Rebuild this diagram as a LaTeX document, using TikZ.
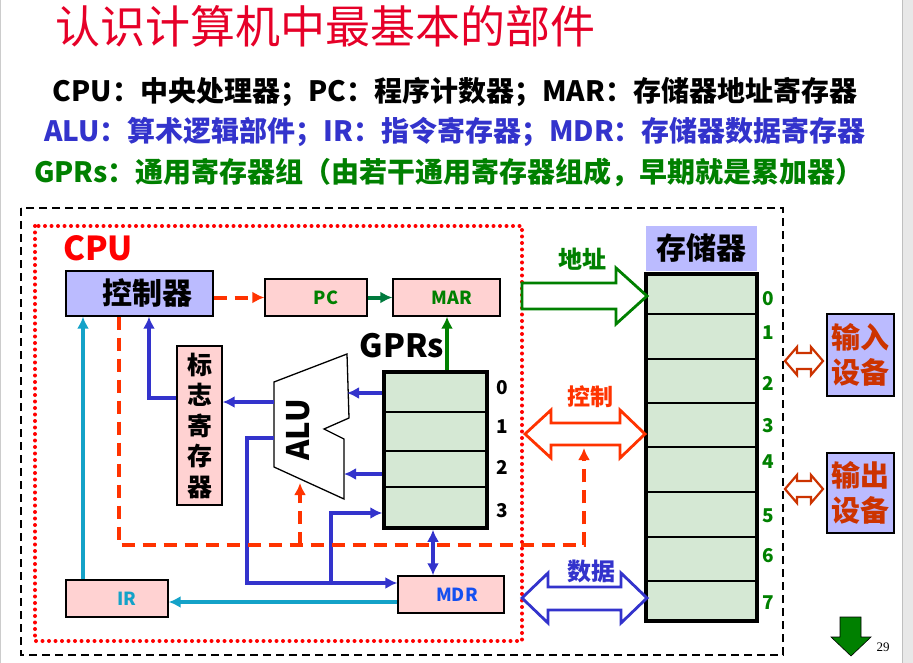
\documentclass[tikz,border=0pt]{standalone}
\usepackage{fontspec}
\setmainfont{Noto Sans CJK SC}
\newfontfamily\pagenumfont{Liberation Serif}
\usetikzlibrary{arrows.meta}
\definecolor{titlered}{RGB}{230,0,40}
\definecolor{lavender}{RGB}{187,187,255}
\definecolor{regpink}{RGB}{255,210,210}
\definecolor{reggreen}{RGB}{213,232,212}
\definecolor{busblue}{RGB}{51,51,204}
\definecolor{ctlred}{RGB}{255,51,0}
\definecolor{addrgreen}{RGB}{0,128,0}
\definecolor{pcgreen}{RGB}{0,122,61}
\definecolor{irteal}{RGB}{20,162,200}
\definecolor{mdrblue}{RGB}{20,80,240}
\definecolor{devred}{RGB}{204,51,0}
\newcommand{\sz}[1]{\fontsize{#1}{#1}\selectfont}

\begin{document}
\begin{tikzpicture}[x=1pt,y=-1pt,>={Latex[length=12pt,width=12pt]},
    box/.style={draw,line width=1.3pt,inner sep=0pt,font=\bfseries\sz{18}},
    pinkbox/.style={box,fill=regpink,minimum width=102,minimum height=37},
    bus/.style={->,busblue,line width=4pt},
    ctl/.style={->,ctlred,line width=4pt,dash pattern=on 13pt off 8pt},
    fatarrow/.style={fill=white,line width=2.8pt,line join=miter},
    numlbl/.style={font=\bfseries\sz{19}}]
  \useasboundingbox (0,0) rectangle (913,663);
  \fill[white] (0,0) rectangle (913,663);
  \fill[gray!18] (902,0) rectangle (913,663);
  \draw[gray!50] (902,0) -- (902,663);
  \draw[gray!40] (0.5,0) -- (0.5,663);

  \node[font=\sz{45},text=titlered] (title) at (325,26) {认识计算机中最基本的部件};
  \node[font=\bfseries\sz{28}] (line1) at (455,92) {CPU：中央处理器；PC：程序计数器；MAR：存储器地址寄存器};
  \node[font=\bfseries\sz{28},text=busblue] (line2) at (455,132) {ALU：算术逻辑部件；IR：指令寄存器；MDR：存储器数据寄存器};
  \node[font=\bfseries\sz{28},text=addrgreen] (line3) at (449,172) {GPRs：通用寄存器组（由若干通用寄存器组成，早期就是累加器）};

  \draw[dash pattern=on 8pt off 5pt,line width=2.2pt] (21,208) rectangle (783,655);
  \draw[red,line width=4pt,line cap=round,dash pattern=on 0pt off 6.5pt] (35,226) rectangle (522,641);
  \node[text=red,font=\bfseries\sz{33}] (cpu) at (98,248) {CPU};

  % CPU registers
  \node[box,fill=lavender,minimum width=147,minimum height=45,font=\bfseries\sz{30}] (ctrl) at (139.5,293.5) {\hspace*{16pt}控制器};
  \node[pinkbox,text=addrgreen] (pc) at (316,297.5) {\hspace*{20pt}PC};
  \node[pinkbox,minimum width=107,text=addrgreen] (mar) at (446.5,297.5) {\hspace*{11pt}MAR};
  \node[box,fill=regpink,minimum width=45,minimum height=159,align=center,font=\bfseries\fontsize{25}{30.5}\selectfont] (flag) at (199.5,425.5) {标\\志\\寄\\存\\器};
  \node[pinkbox,minimum width=106,text=mdrblue] (mdr) at (451,594.5) {\hspace*{12pt}MDR};
  \node[pinkbox,text=irteal] (ir) at (117,598.5) {\hspace*{20pt}IR};
  \node[box,line width=3.5pt,fill=reggreen,minimum width=103,minimum height=156] (gpr) at (435.5,450) {};
  \foreach \yy in {412,451,487}
    \draw[line width=1.3pt] (gpr.west |- 0,\yy) -- (gpr.east |- 0,\yy);
  \foreach \yy/\n in {388/0,427/1,467/2,511/3}
    \node[numlbl] (g\n) at (502,\yy) {\n};
  \node[font=\bfseries\sz{32}] (gprs) at (402,346) {GPRs};

  \coordinate (alu-r0) at (347,393);
  \coordinate (alu-r2) at (344,474);
  \coordinate (alu-f) at (274,402);
  \coordinate (alu-o) at (274,438);
  \coordinate (alu-c) at (300,483);
  \draw[fill=white,line width=1.3pt] (274,382) -- (347,354) -- (349,418) -- (324,429)
    -- (344,439) -- (344,499) -- (274,467) -- cycle;
  \node[rotate=90,font=\bfseries\sz{31}] (alu) at (298,430) {ALU};

  % memory
  \node[fill=lavender,minimum width=111,minimum height=45,font=\bfseries\sz{30}] (memlbl) at (701.5,248.5) {存储器};
  \node[draw,line width=3.5pt,fill=reggreen,minimum width=111,minimum height=347] (mem) at (701.5,447.5) {};
  \foreach \yy in {314,359,403,447,492,537,581}
    \draw[line width=1.3pt] (mem.west |- 0,\yy) -- (mem.east |- 0,\yy);
  \foreach \yy/\n in {299/0,333/1,383/2,426/3,462/4,516/5,556/6,603/7}
    \node[numlbl,text=addrgreen] (m\n) at (768,\yy) {\n};

  \node[box,fill=lavender,minimum width=67,minimum height=82,align=center,text=devred,font=\bfseries\fontsize{29}{35}\selectfont] (indev) at (860.5,355) {输入\\设备};
  \node[box,fill=lavender,minimum width=67,minimum height=80,align=center,text=devred,font=\bfseries\fontsize{29}{35}\selectfont] (outdev) at (860.5,493) {输出\\设备};

  % data paths
  \draw[->,pcgreen,line width=4pt] (pc.east) -- (mar.west);
  \draw[->,addrgreen,line width=4pt] ([xshift=11.5pt]gpr.north) -- ([xshift=11.5pt]gpr.north |- mar.south);
  \draw[bus] (gpr.west |- alu-r0) -- (alu-r0);
  \draw[bus] (gpr.west |- alu-r2) -- (alu-r2);
  \draw[bus] (alu-f) -- (flag.east |- alu-f);
  \draw[bus] ([yshift=27.5pt]flag.west) -| ([xshift=9.5pt]ctrl.south);
  \draw[bus] (alu-o) -- ++(-27,0) |- ([yshift=11.5pt]mdr.west);
  \coordinate (tap) at (331,583);
  \draw[bus] (tap) |- ([yshift=-63pt]gpr.west);
  \draw[bus,<->] ([xshift=-2.5pt]gpr.south) -- ([xshift=-2.5pt]gpr.south |- mdr.north);
  \draw[->,irteal,line width=4pt] ([yshift=-7.5pt]mdr.west) -- ([yshift=-7.5pt]mdr.west -| ir.east);
  \draw[->,irteal,line width=4pt] ([xshift=-34pt]ir.north) -- ([xshift=-34pt]ir.north |- ctrl.south);

  % control signals
  \coordinate (ctl-in) at (584,448);
  \coordinate (ctl-alu) at (300,545);
  \draw[ctl] (ctrl.east |- pc.west) -- (pc.west);
  \draw[ctl] ([xshift=-20.5pt]ctrl.south) |- (ctl-in |- ctl-alu) -- (ctl-in);
  \draw[ctl] (ctl-alu) -- (alu-c);

  % buses to memory
  \draw[fatarrow,draw=addrgreen] (522,283) -- (616,283) -- (616,268) -- (647,296) -- (616,324) -- (616,309) -- (522,309) -- cycle;
  \node[text=addrgreen,font=\bfseries\sz{24}] (addr) at (582,259) {地址};
  \draw[fatarrow,draw=ctlred] (525,434) -- (551,410) -- (551,423) -- (620,423) -- (620,410) -- (645,434)
    -- (620,458) -- (620,445) -- (551,445) -- (551,458) -- cycle;
  \node[text=ctlred,font=\bfseries\sz{23}] (ctlbus) at (590,397) {控制};
  \draw[fatarrow,draw=busblue] (522,598) -- (548,573) -- (548,587) -- (621,587) -- (621,573) -- (647,598)
    -- (621,623) -- (621,610) -- (548,610) -- (548,623) -- cycle;
  \node[text=busblue,font=\bfseries\sz{24}] (databus) at (591,571) {数据};
  \foreach \yy in {361,489}
    \draw[fatarrow,draw=devred,line width=2.2pt] (785,\yy) -- ++(12,-14) -- ++(0,6) -- ++(14,0) -- ++(0,-6)
      -- ++(12,14) -- ++(-12,14) -- ++(0,-6) -- ++(-14,0) -- ++(0,6) -- cycle;

  \draw[fill=addrgreen,line width=0.6pt] (840,617) -- (861,617) -- (861,637) -- (871,637) -- (851,656)
    -- (831,637) -- (840,637) -- cycle;
  \node[font=\pagenumfont\sz{13}] (page) at (883,647) {29};
\end{tikzpicture}
\end{document}
